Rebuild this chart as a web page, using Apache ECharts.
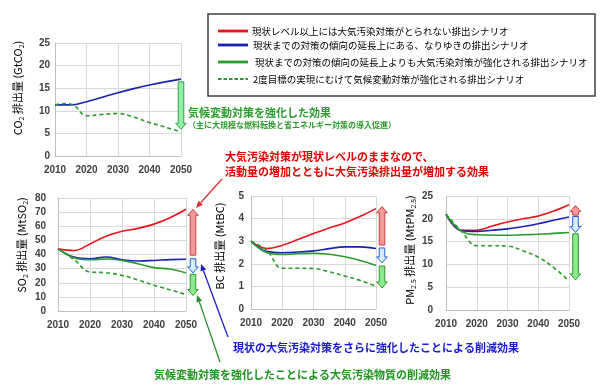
<!DOCTYPE html>
<html><head><meta charset="utf-8">
<script src="https://cdn.jsdelivr.net/npm/echarts@6/dist/echarts.min.js"></script>
<style>html,body{margin:0;padding:0;background:#fff}#c{width:600px;height:388px}</style>
</head><body><div id="c"></div>
<script>
// ---------- DATA ----------
const scenarioNames = [
  '現状レベル以上には大気汚染対策がとられない排出シナリオ',
  '現状までの対策の傾向の延長上にある、なりゆきの排出シナリオ',
  '現状までの対策の傾向の延長上よりも大気汚染対策が強化される排出シナリオ',
  '2度目標の実現にむけて気候変動対策が強化される排出シナリオ'
];
const years = [2010, 2015, 2020, 2025, 2030, 2035, 2040, 2045, 2050];
const xTicks = [2010, 2020, 2030, 2040, 2050];

// CO2 (GtCO2)
const co2Bau = [11.3, 11.3, 12.0, 13.0, 14.0, 14.9, 15.7, 16.4, 17.0];
const co2DashYears = [2010, 2013, 2016, 2020, 2025, 2030, 2035, 2040, 2045, 2050];
const co2Dash = [11.3, 11.6, 11.2, 8.9, 9.2, 9.4, 8.6, 7.4, 6.4, 5.3];
// SO2 (MtSO2)
const so2Red = [44, 42.8, 47.5, 53, 56.5, 58.5, 61.5, 66, 72];
const so2Blue = [44, 38.2, 37, 38.2, 36.3, 35.4, 35.8, 36.4, 36.6];
const so2Green = [44, 37.7, 36.3, 36.8, 35.8, 33.5, 30.7, 29.7, 26.9];
const so2Dash = [44, 36.5, 27.6, 27.1, 25.2, 22, 18.2, 15, 11.6];
// BC (MtBC)
const bcRed = [3.0, 2.68, 2.82, 3.07, 3.34, 3.58, 3.81, 4.1, 4.44];
const bcBlue = [3.0, 2.55, 2.49, 2.52, 2.57, 2.67, 2.75, 2.75, 2.68];
const bcGreen = [3.0, 2.5, 2.41, 2.45, 2.46, 2.42, 2.31, 2.15, 1.93];
const bcDash = [3.0, 2.6, 1.8, 1.8, 1.79, 1.65, 1.46, 1.26, 1.01];
// PM2.5 (MtPM2.5)
const pmRed = [21, 17.5, 17.5, 18.4, 19.3, 20.0, 20.6, 21.7, 23.1];
const pmBlue = [21, 17.4, 17.25, 17.5, 17.8, 18.3, 18.9, 19.7, 20.4];
const pmGreen = [21, 17.3, 16.5, 16.4, 16.4, 16.5, 16.6, 16.8, 17.0];
const pmDash = [21, 17.3, 14.1, 14.1, 14.0, 13.0, 11.6, 9.3, 6.4];

// effect arrows: [year, from, to, kind(0 red,1 blue,2 green,3 climate)]
const co2Arrows = [[2050, 16.4, 5.9, 3]];
const so2Arrows = [[2050, 39.5, 72, 0], [2050, 37, 27, 1], [2050, 26, 11, 2]];
const bcArrows = [[2050, 2.83, 4.53, 0], [2050, 2.7, 2.04, 1], [2050, 1.9, 0.93, 2]];
const pmArrows = [[2050, 20.8, 22.9, 0], [2050, 20.5, 17.0, 1], [2050, 16.7, 6.6, 2]];

// ---------- STYLE ----------
const C_RED = '#e8141c', C_BLUE = '#1a22b0', C_GREEN = '#2b9b2b';
const arrowFill = ['#f29a9a', '#d6ecff', '#8ee88e', '#8ef0a0'];
const arrowStroke = ['#d43c3c', '#2060d0', '#2a9a2a', '#33a050'];
const lineColors = [C_RED, C_BLUE, C_GREEN, C_GREEN];
const JP = '"Noto Sans CJK JP", sans-serif';

const grids = [
  {left: 55, top: 43, width: 126, height: 113},
  {left: 58, top: 198, width: 128, height: 113},
  {left: 251, top: 196, width: 125, height: 113},
  {left: 446, top: 196, width: 123, height: 114}
];
const yDefs = [
  {max: 25, interval: 5, margin: 5},
  {max: 80, interval: 10, margin: 12},
  {max: 5, interval: 1, margin: 7},
  {max: 25, interval: 5, margin: 13}
];
const arrowDx = [0, 7, 6, 6.5];

const labelStyle = {color: '#404040', fontSize: 10, fontWeight: 'bold', fontFamily: 'Liberation Sans'};
const gridLine = {show: true, lineStyle: {color: '#d9d9d9', width: 1}};

const xAxes = grids.map((g, i) => ({
  type: 'value', gridIndex: i, min: 2010, max: 2050, interval: 10,
  axisLine: {show: true, onZero: false, lineStyle: {color: '#bfbfbf'}},
  axisTick: {show: false}, splitLine: gridLine,
  axisLabel: Object.assign({margin: 9, formatter: v => String(v)}, labelStyle)
}));
const yAxes = yDefs.map((d, i) => ({
  type: 'value', gridIndex: i, min: 0, max: d.max, interval: d.interval,
  axisLine: {show: true, lineStyle: {color: '#bfbfbf'}},
  axisTick: {show: false}, splitLine: gridLine,
  axisLabel: Object.assign({margin: d.margin}, labelStyle)
}));

function pairs(xs, ys) { return xs.map((x, i) => [x, ys[i]]); }
function lineSeries(idx, gi, xs, ys) {
  return {
    type: 'line', name: scenarioNames[idx], xAxisIndex: gi, yAxisIndex: gi,
    data: pairs(xs, ys), smooth: 0.4, symbol: 'none', z: 3,
    lineStyle: {color: lineColors[idx], width: 1.6, type: idx === 3 ? [4, 3] : 'solid'},
    itemStyle: {color: lineColors[idx]}
  };
}
function arrowSeries(gi, data) {
  const dx = arrowDx[gi];
  return {
    type: 'custom', xAxisIndex: gi, yAxisIndex: gi, data: data, clip: false, z: 5,
    encode: {x: 0, y: [1, 2]},
    renderItem: function (params, api) {
      const p1 = api.coord([api.value(0), api.value(1)]);
      const p2 = api.coord([api.value(0), api.value(2)]);
      const k = api.value(3);
      const cx = p1[0] + dx;
      const dir = p2[1] < p1[1] ? -1 : 1;
      const bw = 2.8, hw = 5.3, hl = 6;
      const hy = p2[1] - dir * hl;
      const pts = [[cx - bw, p1[1]], [cx + bw, p1[1]], [cx + bw, hy], [cx + hw, hy],
                   [cx, p2[1]], [cx - hw, hy], [cx - bw, hy]];
      return {type: 'polygon', shape: {points: pts},
              style: {fill: arrowFill[k], stroke: arrowStroke[k], lineWidth: 1}};
    }
  };
}

const series = [
  lineSeries(1, 0, years, co2Bau),
  lineSeries(3, 0, co2DashYears, co2Dash),
  lineSeries(0, 1, years, so2Red), lineSeries(1, 1, years, so2Blue),
  lineSeries(2, 1, years, so2Green), lineSeries(3, 1, years, so2Dash),
  lineSeries(0, 2, years, bcRed), lineSeries(1, 2, years, bcBlue),
  lineSeries(2, 2, years, bcGreen), lineSeries(3, 2, years, bcDash),
  lineSeries(0, 3, years, pmRed), lineSeries(1, 3, years, pmBlue),
  lineSeries(2, 3, years, pmGreen), lineSeries(3, 3, years, pmDash),
  arrowSeries(0, co2Arrows), arrowSeries(1, so2Arrows),
  arrowSeries(2, bcArrows), arrowSeries(3, pmArrows)
];

// axis names (rotated rich text)
const richName = {
  n: {fontSize: 11, lineHeight: 14, fontFamily: JP, color: '#404040'},
  s: {fontSize: 7, lineHeight: 7, verticalAlign: 'bottom', fontFamily: JP, color: '#404040'}
};
function axisName(x, y, text) {
  return {type: 'text', x: x, y: y, rotation: Math.PI / 2,
    style: {text: text, rich: richName, align: 'center', verticalAlign: 'middle'}};
}
function label(x, y, text, color, size, weight) {
  return {type: 'text', x: x, y: y,
    style: {text: text, fill: color, font: (weight || 'bold') + ' ' + size + 'px ' + JP,
            align: 'left', verticalAlign: 'middle'}};
}
function pointer(x1, y1, x2, y2, color) {
  const a = Math.atan2(y2 - y1, x2 - x1), L = 7, W = 3;
  const bx = x2 - L * Math.cos(a), by = y2 - L * Math.sin(a);
  const nx = -Math.sin(a) * W, ny = Math.cos(a) * W;
  return [
    {type: 'line', shape: {x1: x1, y1: y1, x2: bx, y2: by}, style: {stroke: color, lineWidth: 1.3}},
    {type: 'polygon', shape: {points: [[x2, y2], [bx + nx, by + ny], [bx - nx, by - ny]]}, style: {fill: color}}
  ];
}
// legend drawn as graphic (line sample + text)
const legendRows = [31, 45, 62, 79];
const legendTextX = [252, 253, 255, 253];
function legendItems() {
  const out = [];
  scenarioNames.forEach((nm, i) => {
    const y = legendRows[i];
    out.push({type: 'line', shape: {x1: 218, y1: y, x2: 248, y2: y},
      style: {stroke: lineColors[i], lineWidth: i === 3 ? 2.2 : 2.8, lineDash: i === 3 ? [3.5, 2] : null}});
    out.push({type: 'text', x: legendTextX[i], y: y,
      style: {text: nm, fill: '#000', font: '9.5px ' + JP, align: 'left', verticalAlign: 'middle'}});
  });
  return out;
}

const graphic = [
  {type: 'rect', shape: {x: 208, y: 14, width: 387, height: 82}, style: {fill: 'none', stroke: '#404040', lineWidth: 1.5}},
  axisName(18, 88, '{n|CO}{s|2}{n| 排出量 (GtCO}{s|2}{n|)}'),
  axisName(22, 245, '{n|SO}{s|2}{n| 排出量 (MtSO}{s|2}{n|)}'),
  axisName(220, 246, '{n|BC 排出量 (MtBC)}'),
  axisName(410, 250, '{n|PM}{s|2.5}{n| 排出量 (MtPM}{s|2.5}{n|)}'),
  label(188, 113, '気候変動対策を強化した効果', C_GREEN, 11),
  label(188, 125, '（主に大規模な燃料転換と省エネルギー対策の導入促進）', C_GREEN, 8),
  label(225, 157, '大気汚染対策が現状レベルのままなので、', '#e00000', 11),
  label(225, 172, '活動量の増加とともに大気汚染排出量が増加する効果', '#e00000', 11),
  label(233, 348, '現状の大気汚染対策をさらに強化したことによる削減効果', '#1a1ad0', 11),
  label(154, 375, '気候変動対策を強化したことによる大気汚染物質の削減効果', '#1f941f', 11)
].concat(
  legendItems(),
  pointer(222, 179, 196, 208, '#e03030'),
  pointer(228, 337, 201, 264, '#2020c0'),
  pointer(220, 362, 197, 295, '#2a8a2a')
);

const chart = echarts.init(document.getElementById('c'), null, {renderer: 'canvas'});
chart.setOption({
  animation: false,
  grid: grids,
  xAxis: xAxes,
  yAxis: yAxes,
  series: series,
  graphic: graphic
});
</script></body></html>
